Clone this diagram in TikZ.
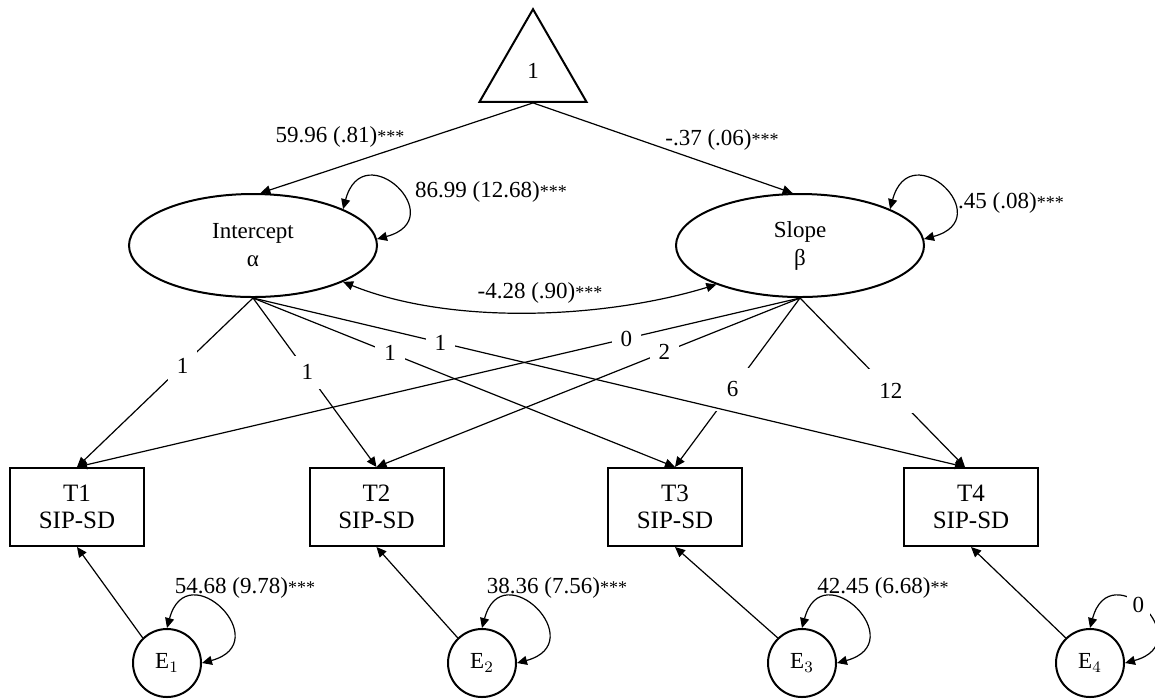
\documentclass[tikz,border=0pt]{standalone}
\usepackage{fontspec}
\setmainfont{Liberation Serif}
\usetikzlibrary{arrows.meta,shapes.geometric}
\newcommand{\sg}[1]{{\fontsize{9}{9}\selectfont #1}}
\begin{document}
\begin{tikzpicture}[x=0.5pt,y=0.5pt,
  font=\fontsize{11.5}{14}\selectfont,
  tip/.style={-{Triangle[length=5pt,width=4.5pt]}},
  dtip/.style={{Triangle[length=5pt,width=4.5pt]}-{Triangle[length=5pt,width=4.5pt]}},
  conn/.style={line width=0.6pt},
  latent/.style={ellipse, draw, line width=1pt, minimum width=124pt, minimum height=51.5pt, inner sep=0pt, align=center},
  obs/.style={rectangle, draw, line width=1pt, minimum width=67pt, minimum height=39pt, inner sep=0pt, align=center, font=\fontsize{12.5}{13.5}\selectfont},
  err/.style={circle, draw, line width=1pt, minimum size=34pt, inner sep=0pt},
  lbl/.style={fill=white, inner sep=4.5pt},
  plain/.style={inner sep=0pt}
]
\useasboundingbox (0,0) rectangle (1155,-698);

% nodes
\node[regular polygon, regular polygon sides=3, draw, line width=1pt, minimum size=61.8pt, inner sep=0pt] (tri) at (533,-71) {1};
\node[latent] (Int) at (253,-245.5) {Intercept\\α};
\node[latent] (Slo) at (800,-245.5) {Slope\\β};

\node[obs] (T1) at (77,-507) {T1\\SIP-SD};
\node[obs] (T2) at (376.5,-507) {T2\\SIP-SD};
\node[obs] (T3) at (675,-507) {T3\\SIP-SD};
\node[obs] (T4) at (971,-507) {T4\\SIP-SD};

\node[err] (E1) at (167,-663) {E$_1$};
\node[err] (E2) at (482,-663) {E$_2$};
\node[err] (E3) at (802,-663) {E$_3$};
\node[err] (E4) at (1090,-663) {E$_4$};

% means
\draw[conn,tip] (tri.south) -- (Int.82);
\draw[conn,tip] (tri.south) -- (Slo.98);
\node[plain] (m1) at (340,-137) {59.96 (.81)\sg{***}};
\node[plain] (m2) at (722,-140) {-.37 (.06)\sg{***}};

% variances of latents
\draw[conn,dtip] (Int.22) .. controls +(75:78) and +(15:78) .. (Int.3);
\draw[conn,dtip] (Slo.22) .. controls +(75:78) and +(15:78) .. (Slo.3);
\node[plain] (v1) at (491,-192) {86.99 (12.68)\sg{***}};
\node[plain] (v2) at (1011,-203) {.45 (.08)\sg{***}};

% covariance
\draw[conn,dtip] (Int.-22) to[out=-22,in=-163,looseness=0.8] (Slo.-155);
\node[plain] (cv) at (540,-293) {-4.28 (.90)\sg{***}};

% loadings (slope first, then intercept)
\draw[conn,tip] (Slo.south) -- node[lbl,pos=0.24] (b1) {0} (T1.north);
\draw[conn,tip] (Slo.south) -- node[lbl,pos=0.32] (b2) {2} (T2.north);
\draw[conn,tip] (Slo.south) -- node[lbl,inner sep=7pt,pos=0.54] (b3) {6} (T3.north);
\draw[conn,tip] (Slo.south) -- node[lbl,inner sep=7pt,pos=0.55] (b4) {12} ([xshift=-3pt]T4.north);
\draw[conn,tip] (Int.south) -- node[lbl,pos=0.40] (a1) {1} (T1.north);
\draw[conn,tip] (Int.south) -- node[lbl,pos=0.44] (a2) {1} (T2.north);
\draw[conn,tip] (Int.south) -- node[lbl,pos=0.325] (a3) {1} (T3.north);
\draw[conn,tip] (Int.south) -- node[lbl,pos=0.263] (a4) {1} ([xshift=-3pt]T4.north);

% residuals
\draw[conn,tip] (E1.134) -- (T1.south);
\draw[conn,tip] (E2.134) -- (T2.south);
\draw[conn,tip] (E3.134) -- (T3.south);
\draw[conn,tip] (E4.134) -- (T4.south);

\draw[conn,dtip] (E1.north) .. controls +(75:78) and +(15:78) .. (E1.east);
\draw[conn,dtip] (E2.north) .. controls +(75:78) and +(15:78) .. (E2.east);
\draw[conn,dtip] (E3.north) .. controls +(75:78) and +(15:78) .. (E3.east);
\draw[conn,dtip] (E4.north) .. controls +(75:78) and +(15:78) .. node[fill=white,inner sep=3pt,pos=0.45] (z4) {0} (E4.east);
\node[plain] (r1) at (245,-588) {54.68 (9.78)\sg{***}};
\node[plain] (r2) at (557,-588) {38.36 (7.56)\sg{***}};
\node[plain] (r3) at (883,-588) {42.45 (6.68)\sg{**}};
\end{tikzpicture}
\end{document}
